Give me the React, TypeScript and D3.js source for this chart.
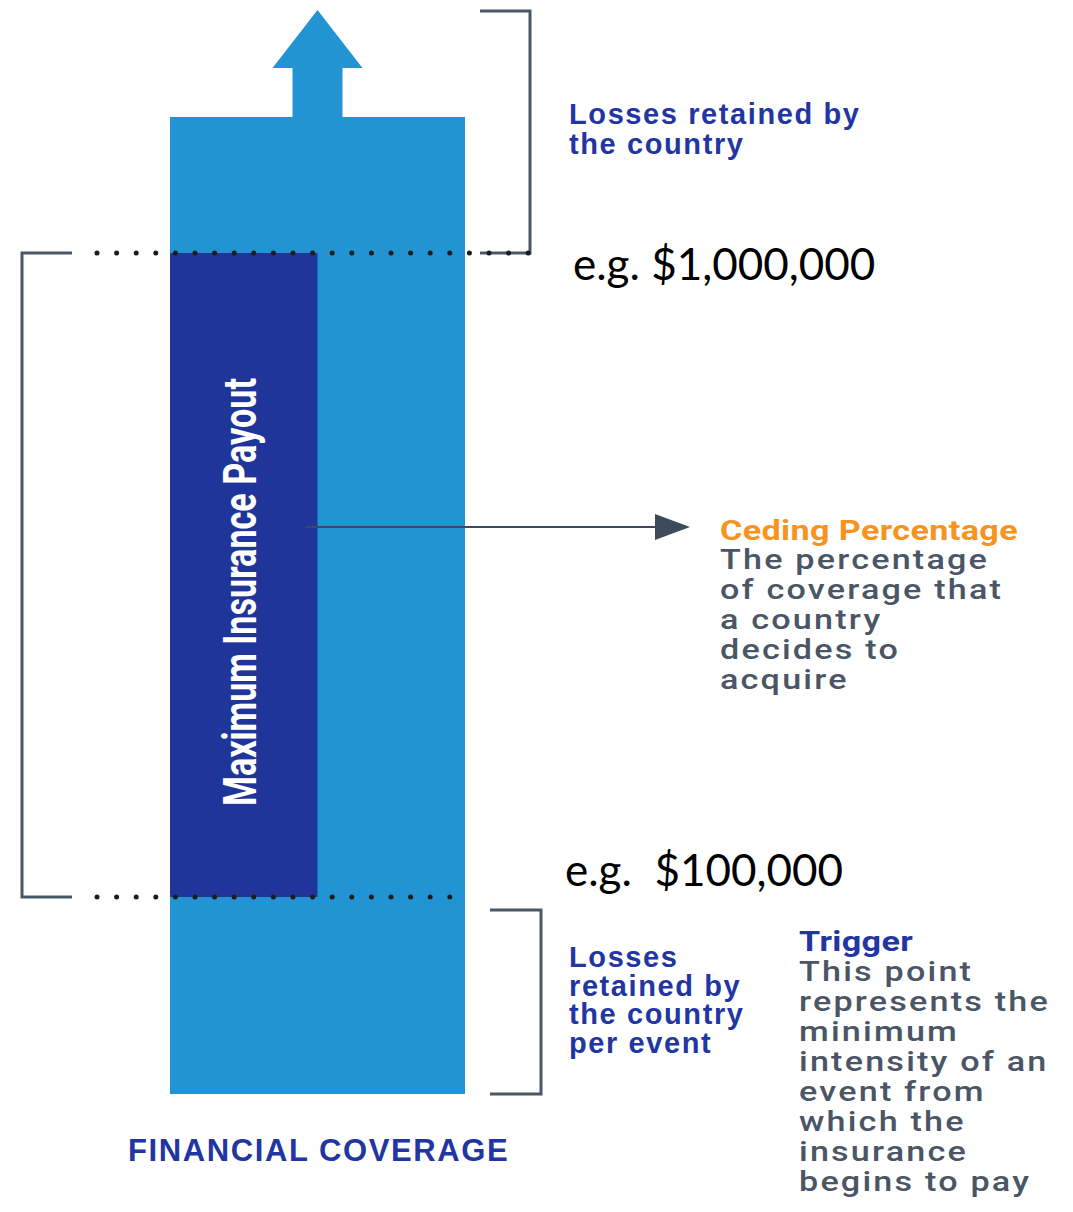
import React from 'react';
import * as d3 from 'd3';

// money thresholds of the layers (bottom of bar, trigger, exhaustion, open top)
const LEVELS = [0, 100000, 1000000, 1300000];
const TRIGGER = 100000;
const EXHAUSTION = 1000000;
const CEDING_PCT = 0.5;

const LEVEL_LABELS = [
  { value: EXHAUSTION, prefix: 'e.g. ', dx: 573, dy: 27 },
  { value: TRIGGER, prefix: 'e.g.  ', dx: 565, dy: -11 },
];

const RETAINED_TOP = ['Losses retained by', 'the country'];
const RETAINED_BOTTOM = ['Losses', 'retained by', 'the country', 'per event'];
const CEDING_TITLE = 'Ceding Percentage';
const CEDING_BODY = ['The percentage', 'of coverage that', 'a country', 'decides to', 'acquire'];
const TRIGGER_TITLE = 'Trigger';
const TRIGGER_BODY = [
  'This point',
  'represents the',
  'minimum',
  'intensity of an',
  'event from',
  'which the',
  'insurance',
  'begins to pay',
];
const BAR_LABEL = 'Maximum Insurance Payout';
const AXIS_TITLE = 'FINANCIAL COVERAGE';

const W = 1073;
const H = 1212;
const LIGHT = '#2394d3';
const DARK = '#1f3599';
const NAVY = '#2236a3';
const GRAY = '#4a5565';
const ORANGE = '#f7931e';
const BRACKET = '#4a5868';

const y = d3.scaleLinear().domain(LEVELS).range([1094, 897, 253, 117]);
const x = d3.scaleLinear().domain([0, 1]).range([170, 465]);
const fmt = d3.format('$,');

export default function App() {
  const cx = (x(0) + x(1)) / 2;
  const top = y(LEVELS[3]);
  const yHi = y(EXHAUSTION);
  const yLo = y(TRIGGER);
  const yBase = y(0);
  const arrowY = 527;

  const upArrow = [
    [cx - 25, top],
    [cx - 25, 68],
    [cx - 45, 68],
    [cx, 10],
    [cx + 45, 68],
    [cx + 25, 68],
    [cx + 25, top],
  ];

  const stretch = 1.22;
  const grayStyle = { fontFamily: 'Roboto', fontWeight: 500, fontSize: 28, letterSpacing: 1.8 };
  const navyStyle = { fontFamily: 'Liberation Sans', fontWeight: 700, fontSize: 29, letterSpacing: 1.6 };

  return (
    <svg width={W} height={H} style={{ position: 'absolute', left: 0, top: 0, background: '#fff' }}>
      {/* main column */}
      <rect x={x(0)} y={top} width={x(1) - x(0)} height={yBase - top} fill={LIGHT} />
      <polygon points={upArrow.map((p) => p.join(',')).join(' ')} fill={LIGHT} />
      <rect x={x(0)} y={yHi} width={x(CEDING_PCT) - x(0)} height={yLo - yHi} fill={DARK} />

      <text
        transform={`translate(256,${(yHi + yLo) / 2 + 17}) rotate(-90)`}
        textAnchor="middle"
        textLength={428}
        lengthAdjust="spacingAndGlyphs"
        fill="#fff"
        style={{ fontFamily: 'Roboto', fontWeight: 700, fontSize: 47 }}
      >
        {BAR_LABEL}
      </text>

      {/* brackets */}
      <g fill="none" stroke={BRACKET} strokeWidth={3}>
        <path d={`M480,11H530V${yHi}H480`} />
        <path d={`M72,${yHi}H22V${yLo}H72`} />
        <path d={`M490,910H541V${yBase}H490`} />
      </g>

      {/* dotted level lines */}
      <g stroke="#1c1c1c" strokeWidth={5} strokeLinecap="round" strokeDasharray="0 19.6">
        <line x1={97} x2={530} y1={yHi} y2={yHi} />
        <line x1={97} x2={458} y1={yLo} y2={yLo} />
      </g>

      {/* ceding arrow */}
      <line x1={305} x2={660} y1={arrowY} y2={arrowY} stroke="#3d4a5c" strokeWidth={2} />
      <polygon points={`655,${arrowY - 13} 690,${arrowY} 655,${arrowY + 13}`} fill="#3d4a5c" />

      {/* level labels */}
      {LEVEL_LABELS.map((d) => (
        <text
          key={d.value}
          x={d.dx}
          y={y(d.value) + d.dy}
          fill="#000"
          style={{ fontFamily: 'Lato', fontSize: 44, whiteSpace: 'pre' }}
        >
          {d.prefix + fmt(d.value)}
        </text>
      ))}

      {/* navy labels */}
      <g fill={NAVY} style={navyStyle}>
        {RETAINED_TOP.map((t, i) => (
          <text key={t} x={569} y={124 + i * 30}>{t}</text>
        ))}
        {RETAINED_BOTTOM.map((t, i) => (
          <text key={t} x={569} y={967 + i * 28.7}>{t}</text>
        ))}
      </g>

      {/* ceding percentage note */}
      <g transform={`translate(720,0) scale(${stretch},1)`}>
        <text x={0} y={540} fill={ORANGE} style={{ fontFamily: 'Roboto', fontWeight: 700, fontSize: 28, letterSpacing: 0.3 }}>
          {CEDING_TITLE}
        </text>
        {CEDING_BODY.map((t, i) => (
          <text key={t} x={0} y={569 + i * 30} fill={GRAY} style={grayStyle}>{t}</text>
        ))}
      </g>

      {/* trigger note */}
      <g transform={`translate(799,0) scale(${stretch},1)`}>
        <text x={0} y={951} fill={NAVY} style={{ fontFamily: 'Roboto', fontWeight: 700, fontSize: 28, letterSpacing: 0.3 }}>
          {TRIGGER_TITLE}
        </text>
        {TRIGGER_BODY.map((t, i) => (
          <text key={t} x={0} y={981 + i * 30} fill={GRAY} style={grayStyle}>{t}</text>
        ))}
      </g>

      <text x={128} y={1161} fill={NAVY} style={{ fontFamily: 'Liberation Sans', fontWeight: 700, fontSize: 31, letterSpacing: 1.6 }}>
        {AXIS_TITLE}
      </text>
    </svg>
  );
}
